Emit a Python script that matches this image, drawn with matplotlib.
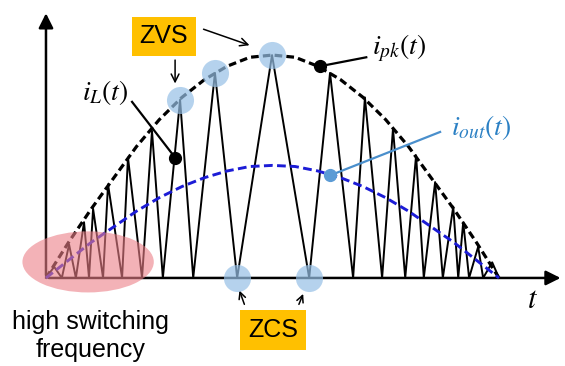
import matplotlib.pyplot as plt
from matplotlib.patches import Ellipse

plt.rcParams['mathtext.fontset'] = 'stix'
plt.rcParams['font.family'] = ['Liberation Sans', 'DejaVu Sans']

# inductor current i_L(t): zero / peak vertices
il_t = [0, 0.18, 0.35, 0.51, 0.66, 0.84, 0.95, 1.04, 1.26, 1.37, 1.68, 1.81,
        2.12, 2.34, 2.58, 2.96, 3.25, 3.73, 4.22, 4.99, 5.81, 6.27, 6.78,
        7.04, 7.42, 7.66, 7.93, 8.17, 8.34, 8.59, 8.76, 8.99, 9.10, 9.21,
        9.34, 9.54, 9.65, 9.85, 10.0]
il_i = [0, 0.05, 0, 0.15, 0, 0.25, 0, 0.31, 0, 0.42, 0, 0.54,
        0, 0.66, 0, 0.80, 0, 0.92, 0, 1.00, 0, 0.92, 0,
        0.81, 0, 0.67, 0, 0.55, 0, 0.43, 0, 0.32, 0, 0.25,
        0, 0.14, 0, 0.07, 0]

# envelopes i_pk(t) and i_out(t)
env_t = [0, 0.5, 1, 1.5, 2, 2.5, 3, 3.5, 4, 4.5, 5, 5.5, 6, 6.5, 7, 7.5, 8,
         8.5, 9, 9.5, 10]
ipk = [0, 0.16, 0.31, 0.45, 0.59, 0.71, 0.81, 0.89, 0.95, 0.99, 1.0, 0.99,
       0.95, 0.89, 0.81, 0.71, 0.59, 0.45, 0.31, 0.16, 0]
iout = [0, 0.08, 0.16, 0.23, 0.30, 0.36, 0.41, 0.45, 0.48, 0.50, 0.505, 0.50,
        0.48, 0.45, 0.41, 0.36, 0.30, 0.23, 0.16, 0.08, 0]

# soft switching points
zvs_t = [2.96, 3.73, 4.99]
zvs_i = [0.80, 0.92, 1.00]
zcs_t = [4.22, 5.81]
zcs_i = [0, 0]

fig = plt.figure(figsize=(5.65, 3.66), dpi=100)
ax = fig.add_axes([0, 0, 1, 1])
ax.set_xlim(-1.015, 11.457)
ax.set_ylim(-0.395, 1.247)
ax.axis('off')

# axes arrows
ax.annotate('', xy=(11.42, 0), xytext=(0, 0),
            arrowprops=dict(arrowstyle='-|>', lw=1.8, color='black', mutation_scale=22))
ax.annotate('', xy=(0, 1.20), xytext=(0, 0),
            arrowprops=dict(arrowstyle='-|>', lw=1.8, color='black', mutation_scale=22))

ax.plot(il_t, il_i, color='black', lw=1.4, zorder=3)
ax.plot(env_t, ipk, color='black', lw=2.3, dashes=(2.4, 1.3), zorder=4)
ax.plot(env_t, iout, color='#1c1cd6', lw=2.1, dashes=(3.0, 1.5), zorder=4)

ax.scatter(zvs_t, zvs_i, s=380, color='#96c0e6', alpha=0.7, lw=0, zorder=5)
ax.scatter(zcs_t, zcs_i, s=380, color='#96c0e6', alpha=0.7, lw=0, zorder=5)

ax.add_patch(Ellipse((0.93, 0.072), 2.90, 0.274, color='#ec8088', alpha=0.6, lw=0, zorder=6))

# labels with pointers
ax.plot([1.90, 2.85], [0.79, 0.54], color='black', lw=1.6, zorder=6)
ax.plot([2.85], [0.54], 'o', color='black', ms=8.5, zorder=7)
ax.text(1.30, 0.83, r'$i_L(t)$', fontsize=20, ha='center', va='center')

ax.plot([6.05, 7.07], [0.95, 0.99], color='black', lw=1.6, zorder=6)
ax.plot([6.05], [0.95], 'o', color='black', ms=8.5, zorder=7)
ax.text(7.80, 1.03, r'$i_{pk}(t)$', fontsize=20, ha='center', va='center')

ax.plot([6.27, 8.70], [0.46, 0.655], color='#4a8fcc', lw=1.6, zorder=6)
ax.plot([6.27], [0.46], 'o', color='#5b9bd5', ms=8.5, zorder=7)
ax.text(9.62, 0.675, r'$i_{out}(t)$', fontsize=20, ha='center', va='center', color='#2b80c4')

ax.text(10.75, -0.10, r'$t$', fontsize=22, ha='center', va='center')

# ZVS box and arrows
ax.text(2.60, 1.085, 'ZVS', fontsize=18, ha='center', va='center',
        bbox=dict(boxstyle='square,pad=0.3', fc='#ffc000', ec='none'))
ax.annotate('', xy=(2.85, 0.86), xytext=(2.85, 0.99),
            arrowprops=dict(arrowstyle='->', lw=1.1, color='black', mutation_scale=14))
ax.annotate('', xy=(4.55, 1.04), xytext=(3.42, 1.12),
            arrowprops=dict(arrowstyle='->', lw=1.1, color='black', mutation_scale=14))

# ZCS box and arrows
ax.text(5.02, -0.235, 'ZCS', fontsize=18, ha='center', va='center',
        bbox=dict(boxstyle='square,pad=0.32', fc='#ffc000', ec='none'))
ax.annotate('', xy=(4.25, -0.045), xytext=(4.40, -0.13),
            arrowprops=dict(arrowstyle='->', lw=1.1, color='black', mutation_scale=12))
ax.annotate('', xy=(5.70, -0.06), xytext=(5.56, -0.13),
            arrowprops=dict(arrowstyle='->', lw=1.1, color='black', mutation_scale=12))

ax.text(0.98, -0.26, 'high switching\nfrequency', fontsize=18, ha='center', va='center',
        linespacing=1.25)

fig.savefig('out.png', dpi=100)
